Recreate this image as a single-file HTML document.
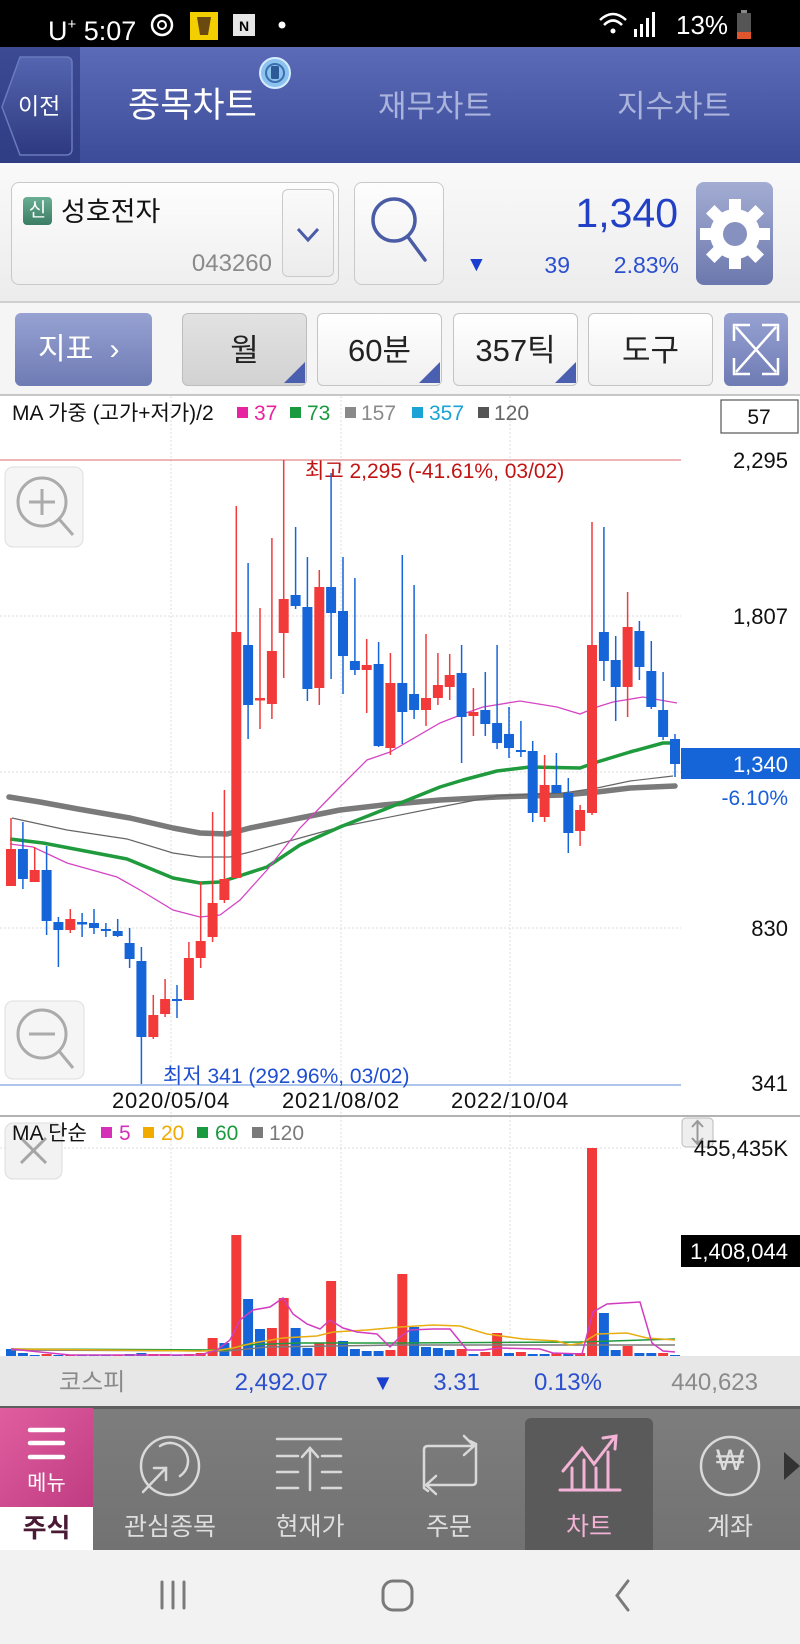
<!DOCTYPE html>
<html><head><meta charset="utf-8">
<style>
*{margin:0;padding:0;box-sizing:border-box}
body{width:800px;height:1644px;position:relative;overflow:hidden;background:#fff;font-family:"Liberation Sans","Noto Sans CJK KR",sans-serif}
.a{position:absolute;white-space:nowrap}
.btn{position:absolute;border:1px solid #c4c4c4;border-radius:6px;background:linear-gradient(#ffffff,#f0f0f0);color:#222;font-size:31px;text-align:center}
</style></head><body>

<!-- status bar -->
<div class="a" style="left:0;top:0;width:800px;height:47px;background:#000"></div>
<div class="a" style="left:48px;top:8px;height:34px;line-height:34px;color:#fff;font-size:27px">U<sup style="font-size:15px;vertical-align:11px">+</sup> 5:07</div>
<div class="a" style="left:676px;top:8px;height:34px;line-height:34px;color:#fff;font-size:26px">13%</div>
<svg class="a" style="left:0;top:0" width="800" height="47">
 <circle cx="162" cy="25" r="10" fill="none" stroke="#fff" stroke-width="2.5"/>
 <circle cx="162" cy="25" r="4" fill="none" stroke="#fff" stroke-width="2"/>
 <rect x="190" y="12" width="28" height="28" fill="#f3cf00"/>
 <path d="M197 17 L211 17 L208 35 L200 35 Z" fill="#6a4a10"/>
 <rect x="233" y="14" width="22" height="22" fill="#e6e6e6"/>
 <text x="244" y="31" font-size="14" font-weight="bold" text-anchor="middle" fill="#000" font-family="Liberation Sans">N</text>
 <circle cx="282" cy="25" r="3.5" fill="#fff"/>
 <path d="M600 20 Q613 8 626 20" fill="none" stroke="#fff" stroke-width="2.5"/>
 <path d="M604 25 Q613 16 622 25" fill="none" stroke="#fff" stroke-width="2.5"/>
 <circle cx="613" cy="31" r="2.5" fill="#fff"/>
 <rect x="634" y="29" width="3" height="8" fill="#fff"/>
 <rect x="640" y="24" width="3" height="13" fill="#fff"/>
 <rect x="646" y="18" width="3" height="19" fill="#fff"/>
 <rect x="652" y="12" width="3" height="25" fill="#fff"/>
 <rect x="741" y="10" width="6" height="3" fill="#888"/>
 <rect x="737" y="13" width="14" height="26" fill="#555"/>
 <rect x="737" y="32" width="14" height="7" fill="#e0552e"/>
</svg>

<!-- header -->
<div class="a" style="left:0;top:47px;width:800px;height:116px;background:linear-gradient(#5b6bb7,#3c4c98)"></div>
<div class="a" style="left:0;top:47px;width:80px;height:116px;background:linear-gradient(#3b4a93,#2f3d85)"></div>
<svg class="a" style="left:0;top:47px" width="80" height="116">
 <defs><linearGradient id="bk" x1="0" y1="0" x2="0" y2="1"><stop offset="0" stop-color="#5565b0"/><stop offset="1" stop-color="#2d3a80"/></linearGradient></defs>
 <path d="M66 10 L20 10 L2 60 L20 108 L66 108 Q72 108 72 102 L72 16 Q72 10 66 10 Z" fill="url(#bk)" stroke="#6b7abd" stroke-width="1.5"/>
</svg>
<div class="a" style="left:18px;top:90px;height:32px;line-height:32px;color:#fff;font-size:23px">이전</div>
<div class="a" style="left:128px;top:85px;height:42px;line-height:42px;color:#fff;font-size:35px">종목차트</div>
<svg class="a" style="left:258px;top:56px" width="36" height="36">
 <circle cx="17" cy="17" r="15" fill="#8cc2ee" stroke="#d6ecff" stroke-width="2"/>
 <circle cx="17" cy="17" r="9" fill="none" stroke="#3b6fae" stroke-width="2"/>
 <rect x="13" y="10" width="8" height="13" rx="1.5" fill="#2d5a96"/>
</svg>
<div class="a" style="left:378px;top:87px;height:40px;line-height:40px;color:#a9b3dc;font-size:31px">재무차트</div>
<div class="a" style="left:617px;top:87px;height:40px;line-height:40px;color:#a9b3dc;font-size:31px">지수차트</div>

<!-- stock info row -->
<div class="a" style="left:0;top:163px;width:800px;height:139px;background:linear-gradient(#f9f9f9,#ececec)"></div>
<div class="a" style="left:11px;top:182px;width:328px;height:103px;border:1px solid #c9c9c9;border-radius:8px;background:linear-gradient(#fdfdfd,#efefef)"></div>
<div class="a" style="left:23px;top:197px;width:29px;height:28px;border-radius:4px;background:linear-gradient(#6aae93,#3b7c64);color:#fff;font-size:19px;line-height:28px;text-align:center">신</div>
<div class="a" style="left:61px;top:194px;height:36px;line-height:36px;color:#111;font-size:27px">성호전자</div>
<div class="a" style="left:185px;top:249px;height:30px;line-height:30px;color:#8a8a8a;font-size:24px;width:87px;text-align:right">043260</div>
<div class="a" style="left:282px;top:189px;width:52px;height:88px;border:1px solid #cacaca;border-radius:6px;background:linear-gradient(#fafafa,#ececec)"></div>
<svg class="a" style="left:282px;top:189px" width="52" height="88"><polyline points="16,40 26,51 36,40" fill="none" stroke="#4a5ba8" stroke-width="3"/></svg>
<div class="a" style="left:354px;top:182px;width:90px;height:103px;border:1px solid #c9c9c9;border-radius:8px;background:linear-gradient(#fdfdfd,#efefef)"></div>
<svg class="a" style="left:354px;top:182px" width="90" height="103">
 <circle cx="40" cy="38" r="21" fill="none" stroke="#4b5ca6" stroke-width="3.5"/>
 <line x1="54" y1="55" x2="71" y2="78" stroke="#4b5ca6" stroke-width="3.5" stroke-linecap="round"/>
</svg>
<div class="a" style="left:540px;top:189px;width:138px;height:48px;line-height:48px;color:#2140c6;font-size:41px;text-align:right">1,340</div>
<div class="a" style="left:466px;top:250px;height:30px;line-height:30px;color:#1a3fd0;font-size:21px">▼</div>
<div class="a" style="left:520px;top:250px;width:50px;height:30px;line-height:30px;color:#2a4fcf;font-size:23px;text-align:right">39</div>
<div class="a" style="left:590px;top:250px;width:89px;height:30px;line-height:30px;color:#2a4fcf;font-size:23px;text-align:right">2.83%</div>
<div class="a" style="left:696px;top:182px;width:77px;height:103px;border-radius:8px;background:linear-gradient(#a3adD3,#6c78ad)"></div>
<svg class="a" style="left:696px;top:182px" width="77" height="103">
 <g transform="translate(39,52)" fill="#fff">
  <circle r="25"/>
  <rect x="-6" y="-35" width="12" height="14"/>
  <rect x="-6" y="21" width="12" height="14"/>
  <rect x="-35" y="-6" width="14" height="12"/>
  <rect x="21" y="-6" width="14" height="12"/>
  <rect x="-6" y="-35" width="12" height="14" transform="rotate(45)"/>
  <rect x="-6" y="-35" width="12" height="14" transform="rotate(135)"/>
  <rect x="-6" y="-35" width="12" height="14" transform="rotate(225)"/>
  <rect x="-6" y="-35" width="12" height="14" transform="rotate(315)"/>
  <circle r="12" fill="#8791c0"/>
 </g>
</svg>

<!-- toolbar -->
<div class="a" style="left:0;top:301px;width:800px;height:2px;background:#cfcfcf"></div>
<div class="a" style="left:0;top:303px;width:800px;height:92px;background:#f5f5f5"></div>
<div class="a" style="left:15px;top:313px;width:137px;height:73px;border-radius:6px;background:linear-gradient(#97a2d2,#6e7bb4);color:#fff;font-size:30px;line-height:73px;padding-left:23px">지표 <span style="font-size:30px;margin-left:8px">›</span></div>
<div class="btn" style="left:182px;top:313px;width:125px;height:73px;line-height:73px;background:linear-gradient(#e2e2e2,#d2d2d2);border-color:#bdbdbd">월</div>
<div class="btn" style="left:317px;top:313px;width:125px;height:73px;line-height:73px">60분</div>
<div class="btn" style="left:453px;top:313px;width:125px;height:73px;line-height:73px">357틱</div>
<div class="btn" style="left:588px;top:313px;width:125px;height:73px;line-height:73px">도구</div>
<svg class="a" style="left:0;top:300px" width="800" height="95">
 <polygon points="305,62 305,83 284,83" fill="#4a5fb0"/>
 <polygon points="440,62 440,83 419,83" fill="#4a5fb0"/>
 <polygon points="576,62 576,83 555,83" fill="#4a5fb0"/>
</svg>
<div class="a" style="left:724px;top:313px;width:64px;height:73px;border-radius:6px;background:linear-gradient(#97a2d2,#6e7bb4)"></div>
<svg class="a" style="left:724px;top:313px" width="64" height="73" fill="none" stroke="#fff" stroke-width="2.5">
 <line x1="12" y1="14" x2="52" y2="59"/><line x1="52" y1="14" x2="12" y2="59"/>
 <polyline points="10,28 10,12 26,12"/><polyline points="38,12 54,12 54,28"/>
 <polyline points="10,45 10,61 26,61"/><polyline points="38,61 54,61 54,45"/>
</svg>

<!-- chart -->
<svg class="a" style="left:0;top:0" width="800" height="1644" font-family="Liberation Sans, Noto Sans CJK KR, sans-serif">
 <line x1="0" y1="395" x2="800" y2="395" stroke="#b5b5b5" stroke-width="1.5"/>
 <!-- grids -->
 <g stroke="#dcdcdc" stroke-width="1" stroke-dasharray="2,2">
  <line x1="171" y1="396" x2="171" y2="1356"/>
  <line x1="341" y1="396" x2="341" y2="1356"/>
  <line x1="510" y1="396" x2="510" y2="1356"/>
  <line x1="0" y1="616" x2="681" y2="616"/>
  <line x1="0" y1="772" x2="681" y2="772"/>
  <line x1="0" y1="928" x2="681" y2="928"/>
  <line x1="0" y1="1148" x2="681" y2="1148"/>
 </g>
 <line x1="0" y1="460" x2="681" y2="460" stroke="#e28a8a" stroke-width="1.2"/>
 <line x1="0" y1="1085" x2="681" y2="1085" stroke="#7ea3e2" stroke-width="1.2"/>

 <!-- legend -->
 <text x="12" y="420" font-size="21" fill="#111">MA 가중 (고가+저가)/2</text>
 <rect x="237" y="407" width="11" height="11" fill="#e8239f"/><text x="254" y="420" font-size="21" fill="#e8239f">37</text>
 <rect x="290" y="407" width="11" height="11" fill="#1a9a3e"/><text x="307" y="420" font-size="21" fill="#1a9a3e">73</text>
 <rect x="345" y="407" width="11" height="11" fill="#8a8a8a"/><text x="361" y="420" font-size="21" fill="#8a8a8a">157</text>
 <rect x="412" y="407" width="11" height="11" fill="#1aa3d4"/><text x="429" y="420" font-size="21" fill="#1aa3d4">357</text>
 <rect x="478" y="407" width="11" height="11" fill="#555"/><text x="494" y="420" font-size="21" fill="#666">120</text>
 <rect x="721" y="400" width="77" height="33" fill="#fff" stroke="#555" stroke-width="1.2"/>
 <text x="759" y="424" font-size="21" fill="#111" text-anchor="middle">57</text>

 <!-- axis labels -->
 <g font-size="22" fill="#111" text-anchor="end">
  <text x="788" y="468">2,295</text>
  <text x="788" y="624">1,807</text>
  <text x="788" y="936">830</text>
  <text x="788" y="1091">341</text>
 </g>
 <text x="305" y="478" font-size="21" fill="#c21313">최고 2,295 (-41.61%, 03/02)</text>
 <text x="163" y="1083" font-size="21" fill="#1d4fd0">최저 341 (292.96%, 03/02)</text>
 <g font-size="22" fill="#111" text-anchor="middle" letter-spacing="0.8">
  <text x="171" y="1108">2020/05/04</text>
  <text x="341" y="1108">2021/08/02</text>
  <text x="510" y="1108">2022/10/04</text>
 </g>

 <!-- zoom buttons -->
 <rect x="5" y="467" width="78" height="80" rx="8" fill="#f5f5f5" stroke="#dedede"/>
 <circle cx="42" cy="502" r="24" fill="none" stroke="#ababab" stroke-width="3"/>
 <line x1="29" y1="502" x2="55" y2="502" stroke="#ababab" stroke-width="3"/>
 <line x1="42" y1="489" x2="42" y2="515" stroke="#ababab" stroke-width="3"/>
 <line x1="59" y1="519" x2="73" y2="535" stroke="#ababab" stroke-width="3"/>
 <rect x="5" y="1001" width="79" height="78" rx="8" fill="#f5f5f5" stroke="#dedede"/>
 <circle cx="42" cy="1034" r="24" fill="none" stroke="#ababab" stroke-width="3"/>
 <line x1="29" y1="1034" x2="55" y2="1034" stroke="#ababab" stroke-width="3"/>
 <line x1="59" y1="1051" x2="73" y2="1068" stroke="#ababab" stroke-width="3"/>

 <!-- MA lines -->
 <polyline fill="none" stroke="#7a7a7a" stroke-width="5.5" stroke-linecap="round" stroke-linejoin="round" points="9,797 40,802 78,809 130,818 173,828 200,833 227,834 250,828 300,818 340,810 383,805 440,800 497,797 563,795 597,792 630,788 675,786"/>
 <polyline fill="none" stroke="#666" stroke-width="1.2" points="12,818 67,830 127,839 173,853 200,857 230,857 250,852 300,838 340,827 440,807 497,796 563,793 597,788 630,781 673,776"/>
 <polyline fill="none" stroke="#1f9a3c" stroke-width="3.5" stroke-linejoin="round" points="10,839 43,843 127,859 173,878 200,883 220,882 233,878 267,867 300,845 340,827 383,810 440,787 463,780 497,771 530,767 580,768 597,762 630,752 663,743 675,743"/>
 <polyline fill="none" stroke="#d545c4" stroke-width="1.3" points="10,844 33,847 67,863 117,877 140,890 173,910 200,917 220,915 240,900 267,870 300,828 340,787 367,760 390,752 440,723 463,714 483,707 520,701 557,707 580,714 597,707 613,702 643,697 677,703"/>

 <!-- red candles -->
 <g stroke="#f23a3a" stroke-width="1.5">
  <line x1="11" y1="818" x2="11" y2="886"/><line x1="34.7" y1="847" x2="34.7" y2="882"/>
  <line x1="70.3" y1="909" x2="70.3" y2="933"/><line x1="153.3" y1="995" x2="153.3" y2="1039"/>
  <line x1="165.1" y1="979" x2="165.1" y2="1017"/><line x1="188.9" y1="942" x2="188.9" y2="1000"/>
  <line x1="200.7" y1="882" x2="200.7" y2="968"/><line x1="212.6" y1="812" x2="212.6" y2="942"/>
  <line x1="224.4" y1="790" x2="224.4" y2="903"/><line x1="236.3" y1="506" x2="236.3" y2="878"/>
  <line x1="260" y1="608" x2="260" y2="729"/><line x1="271.9" y1="538" x2="271.9" y2="719"/>
  <line x1="283.7" y1="460" x2="283.7" y2="678"/><line x1="319.3" y1="570" x2="319.3" y2="705"/>
  <line x1="366.7" y1="639" x2="366.7" y2="713"/><line x1="390.4" y1="653" x2="390.4" y2="755"/>
  <line x1="426" y1="634" x2="426" y2="726"/><line x1="437.9" y1="653" x2="437.9" y2="705"/>
  <line x1="449.7" y1="654" x2="449.7" y2="700"/><line x1="473.4" y1="688" x2="473.4" y2="736"/>
  <line x1="544.6" y1="755" x2="544.6" y2="822"/><line x1="580.1" y1="805" x2="580.1" y2="846"/>
  <line x1="592" y1="522" x2="592" y2="815"/><line x1="627.6" y1="592" x2="627.6" y2="717"/>
 </g>
 <g fill="#f23a3a">
  <rect x="6" y="849" width="10" height="37"/><rect x="29.7" y="870" width="10" height="12"/>
  <rect x="65.3" y="919" width="10" height="11"/><rect x="148.3" y="1015" width="10" height="22"/>
  <rect x="160.1" y="999" width="10" height="15"/><rect x="183.9" y="958" width="10" height="42"/>
  <rect x="195.7" y="941" width="10" height="17"/><rect x="207.6" y="903" width="10" height="34"/>
  <rect x="219.4" y="879" width="10" height="21"/><rect x="231.3" y="632" width="10" height="246"/>
  <rect x="255" y="698" width="10" height="2.5"/><rect x="266.9" y="651" width="10" height="53"/>
  <rect x="278.7" y="599" width="10" height="34"/><rect x="314.3" y="587" width="10" height="101"/>
  <rect x="361.7" y="665" width="10" height="5"/><rect x="385.4" y="683" width="10" height="65"/>
  <rect x="421" y="698" width="10" height="12"/><rect x="432.9" y="685" width="10" height="13"/>
  <rect x="444.7" y="675" width="10" height="12"/><rect x="468.4" y="712" width="10" height="4"/>
  <rect x="539.6" y="785" width="10" height="32"/><rect x="575.1" y="810" width="10" height="21"/>
  <rect x="587" y="645" width="10" height="168"/><rect x="622.6" y="627" width="10" height="60"/>
 </g>
 <!-- blue candles -->
 <g stroke="#1565d8" stroke-width="1.5">
  <line x1="22.9" y1="822" x2="22.9" y2="889"/><line x1="46.6" y1="846" x2="46.6" y2="935"/>
  <line x1="58.4" y1="917" x2="58.4" y2="967"/><line x1="82.1" y1="913" x2="82.1" y2="937"/>
  <line x1="94" y1="909" x2="94" y2="934"/><line x1="105.9" y1="923" x2="105.9" y2="937"/>
  <line x1="117.7" y1="919" x2="117.7" y2="937"/><line x1="129.6" y1="928" x2="129.6" y2="968"/>
  <line x1="141.4" y1="947" x2="141.4" y2="1084"/><line x1="177" y1="985" x2="177" y2="1018"/>
  <line x1="248.1" y1="563" x2="248.1" y2="739"/><line x1="295.6" y1="527" x2="295.6" y2="609"/>
  <line x1="307.4" y1="557" x2="307.4" y2="701"/><line x1="331.1" y1="473" x2="331.1" y2="679"/>
  <line x1="343" y1="557" x2="343" y2="694"/><line x1="354.9" y1="578" x2="354.9" y2="675"/>
  <line x1="378.6" y1="642" x2="378.6" y2="747"/><line x1="402.3" y1="555" x2="402.3" y2="744"/>
  <line x1="414.1" y1="585" x2="414.1" y2="719"/><line x1="461.6" y1="645" x2="461.6" y2="763"/>
  <line x1="485.3" y1="672" x2="485.3" y2="736"/><line x1="497.1" y1="645" x2="497.1" y2="749"/>
  <line x1="509" y1="707" x2="509" y2="758"/><line x1="520.9" y1="721" x2="520.9" y2="757"/>
  <line x1="532.7" y1="741" x2="532.7" y2="822"/><line x1="556.4" y1="753" x2="556.4" y2="793"/>
  <line x1="568.3" y1="778" x2="568.3" y2="853"/><line x1="603.9" y1="527" x2="603.9" y2="681"/>
  <line x1="615.7" y1="636" x2="615.7" y2="721"/><line x1="639.4" y1="621" x2="639.4" y2="680"/>
  <line x1="651.3" y1="641" x2="651.3" y2="709"/><line x1="663.1" y1="672" x2="663.1" y2="740"/>
  <line x1="675" y1="734" x2="675" y2="777"/>
 </g>
 <g fill="#1565d8">
  <rect x="17.9" y="849" width="10" height="30"/><rect x="41.6" y="870" width="10" height="51"/>
  <rect x="53.4" y="922" width="10" height="8"/><rect x="77.1" y="922" width="10" height="2.5"/>
  <rect x="89" y="923" width="10" height="5"/><rect x="100.9" y="929" width="10" height="2"/>
  <rect x="112.7" y="931" width="10" height="5"/><rect x="124.6" y="943" width="10" height="16"/>
  <rect x="136.4" y="961" width="10" height="76"/><rect x="172" y="999" width="10" height="2"/>
  <rect x="243.1" y="645" width="10" height="60"/><rect x="290.6" y="595" width="10" height="11"/>
  <rect x="302.4" y="607" width="10" height="82"/><rect x="326.1" y="587" width="10" height="26"/>
  <rect x="338" y="611" width="10" height="45"/><rect x="349.9" y="661" width="10" height="9"/>
  <rect x="373.6" y="664" width="10" height="82"/><rect x="397.3" y="683" width="10" height="29"/>
  <rect x="409.1" y="694" width="10" height="16"/><rect x="456.6" y="673" width="10" height="44"/>
  <rect x="480.3" y="710" width="10" height="14"/><rect x="492.1" y="723" width="10" height="20"/>
  <rect x="504" y="734" width="10" height="14"/><rect x="515.9" y="750" width="10" height="2"/>
  <rect x="527.7" y="751" width="10" height="62"/><rect x="551.4" y="785" width="10" height="8"/>
  <rect x="563.3" y="793" width="10" height="40"/><rect x="598.9" y="632" width="10" height="29"/>
  <rect x="610.7" y="660" width="10" height="27"/><rect x="634.4" y="631" width="10" height="36"/>
  <rect x="646.3" y="671" width="10" height="36"/><rect x="658.1" y="710" width="10" height="27"/>
  <rect x="670" y="739" width="10" height="25"/>
 </g>

 <!-- current price -->
 <rect x="681" y="748" width="119" height="31" fill="#1565d8"/>
 <text x="788" y="772" font-size="22" fill="#fff" text-anchor="end">1,340</text>
 <text x="788" y="805" font-size="21" fill="#1a5fd8" text-anchor="end">-6.10%</text>

 <!-- volume pane -->
 <line x1="0" y1="1116" x2="800" y2="1116" stroke="#9a9a9a" stroke-width="1.5"/>
 <rect x="5" y="1123" width="57" height="56" rx="8" fill="#f2f2f2" stroke="#dcdcdc"/>
 <line x1="21" y1="1138" x2="46" y2="1163" stroke="#a5a5a5" stroke-width="3"/>
 <line x1="46" y1="1138" x2="21" y2="1163" stroke="#a5a5a5" stroke-width="3"/>
 <text x="12" y="1140" font-size="21" fill="#111">MA 단순</text>
 <rect x="101" y="1127" width="11" height="11" fill="#d62fb8"/><text x="119" y="1140" font-size="21" fill="#d62fb8">5</text>
 <rect x="143" y="1127" width="11" height="11" fill="#f0aa00"/><text x="161" y="1140" font-size="21" fill="#f0aa00">20</text>
 <rect x="197" y="1127" width="11" height="11" fill="#1a9a3e"/><text x="215" y="1140" font-size="21" fill="#1a9a3e">60</text>
 <rect x="252" y="1127" width="11" height="11" fill="#7a7a7a"/><text x="269" y="1140" font-size="21" fill="#7a7a7a">120</text>
 <rect x="682" y="1118" width="31" height="29" rx="4" fill="#eeeeee" stroke="#bbb"/>
 <line x1="697.5" y1="1122" x2="697.5" y2="1143" stroke="#999" stroke-width="2"/>
 <polyline points="692,1127 697.5,1121 703,1127" fill="none" stroke="#999" stroke-width="2"/>
 <polyline points="692,1138 697.5,1144 703,1138" fill="none" stroke="#999" stroke-width="2"/>
 <text x="788" y="1156" font-size="22" fill="#111" text-anchor="end">455,435K</text>
 <rect x="681" y="1235" width="119" height="32" fill="#000"/>
 <text x="788" y="1259" font-size="22" fill="#fff" text-anchor="end">1,408,044</text>

 <g fill="#f23a3a">
  <rect x="41.6" y="1354" width="10" height="2"/><rect x="65.3" y="1355" width="10" height="1"/>
  <rect x="112.7" y="1355" width="10" height="1"/><rect x="148.3" y="1354" width="10" height="2"/>
  <rect x="160.1" y="1354" width="10" height="2"/><rect x="183.9" y="1354" width="10" height="2"/>
  <rect x="195.7" y="1353" width="10" height="3"/><rect x="207.6" y="1338" width="10" height="18"/>
  <rect x="231.3" y="1235" width="10" height="121"/><rect x="266.9" y="1328" width="10" height="28"/>
  <rect x="278.7" y="1298" width="10" height="58"/><rect x="314.3" y="1343" width="10" height="13"/>
  <rect x="326.1" y="1281" width="10" height="75"/><rect x="385.4" y="1350" width="10" height="6"/>
  <rect x="397.3" y="1274" width="10" height="82"/><rect x="456.6" y="1349" width="10" height="7"/>
  <rect x="480.3" y="1352" width="10" height="4"/><rect x="492.1" y="1333" width="10" height="23"/>
  <rect x="515.9" y="1352" width="10" height="4"/><rect x="551.4" y="1353" width="10" height="3"/>
  <rect x="575.1" y="1353" width="10" height="3"/><rect x="587" y="1148" width="10" height="208"/>
  <rect x="622.6" y="1346" width="10" height="10"/><rect x="658.1" y="1353" width="10" height="3"/>
 </g>
 <g fill="#1565d8">
  <rect x="6" y="1349" width="10" height="7"/><rect x="17.9" y="1353" width="10" height="3"/>
  <rect x="29.7" y="1355" width="10" height="1"/><rect x="53.4" y="1355" width="10" height="1"/>
  <rect x="77.1" y="1355" width="10" height="1"/><rect x="89" y="1355" width="10" height="1"/>
  <rect x="100.9" y="1355" width="10" height="1"/><rect x="124.6" y="1354" width="10" height="2"/>
  <rect x="136.4" y="1353" width="10" height="3"/><rect x="172" y="1355" width="10" height="1"/>
  <rect x="219.4" y="1343" width="10" height="13"/><rect x="243.1" y="1299" width="10" height="57"/>
  <rect x="255" y="1329" width="10" height="27"/><rect x="290.6" y="1328" width="10" height="28"/>
  <rect x="302.4" y="1348" width="10" height="8"/><rect x="338" y="1341" width="10" height="15"/>
  <rect x="349.9" y="1349" width="10" height="7"/><rect x="361.7" y="1351" width="10" height="5"/>
  <rect x="373.6" y="1351" width="10" height="5"/><rect x="409.1" y="1327" width="10" height="29"/>
  <rect x="421" y="1347" width="10" height="9"/><rect x="432.9" y="1348" width="10" height="8"/>
  <rect x="444.7" y="1350" width="10" height="6"/><rect x="468.4" y="1354" width="10" height="2"/>
  <rect x="504" y="1353" width="10" height="3"/><rect x="527.7" y="1354" width="10" height="2"/>
  <rect x="539.6" y="1354" width="10" height="2"/><rect x="563.3" y="1353" width="10" height="3"/>
  <rect x="598.9" y="1313" width="10" height="43"/><rect x="610.7" y="1350" width="10" height="6"/>
  <rect x="634.4" y="1353" width="10" height="3"/><rect x="646.3" y="1353" width="10" height="3"/>
  <rect x="670" y="1355" width="10" height="1"/>
 </g>
 <polyline fill="none" stroke="#7a7a7a" stroke-width="1.5" points="11,1350 227,1351 267,1347 400,1345 675,1345"/>
 <polyline fill="none" stroke="#1f9a3c" stroke-width="1.5" points="11,1349 227,1350 243,1345 300,1343 400,1343 580,1342 675,1339"/>
 <polyline fill="none" stroke="#e8ad10" stroke-width="1.5" points="11,1349 200,1351 220,1350 233,1348 253,1343 283,1338 317,1336 333,1332 367,1330 400,1327 433,1325 460,1326 487,1334 523,1339 557,1341 570,1345 582,1343 597,1334 627,1333 647,1338 675,1340"/>
 <polyline fill="none" stroke="#d23cc0" stroke-width="1.5" points="11,1349 40,1352 70,1355 200,1355 217,1350 230,1340 240,1320 253,1310 270,1307 283,1298 293,1314 307,1324 320,1329 330,1320 343,1328 357,1332 377,1334 390,1347 400,1337 410,1330 433,1329 450,1329 467,1350 483,1350 500,1348 540,1349 553,1353 582,1354 593,1312 607,1304 623,1303 640,1302 652,1343 663,1351 675,1352"/>
</svg>

<!-- kospi bar -->
<div class="a" style="left:0;top:1356px;width:800px;height:52px;background:#e7e7e7"></div>
<div class="a" style="left:59px;top:1367px;height:32px;line-height:32px;font-size:24px;color:#8a8a8a">코스피</div>
<div class="a" style="left:220px;top:1367px;width:108px;height:32px;line-height:32px;font-size:24px;color:#2a4fcf;text-align:right">2,492.07</div>
<div class="a" style="left:372px;top:1367px;height:32px;line-height:32px;font-size:22px;color:#1a3fd0">▼</div>
<div class="a" style="left:420px;top:1367px;width:60px;height:32px;line-height:32px;font-size:24px;color:#2a4fcf;text-align:right">3.31</div>
<div class="a" style="left:520px;top:1367px;width:82px;height:32px;line-height:32px;font-size:24px;color:#2a4fcf;text-align:right">0.13%</div>
<div class="a" style="left:650px;top:1367px;width:108px;height:32px;line-height:32px;font-size:24px;color:#8a8a8a;text-align:right">440,623</div>

<!-- bottom nav -->
<div class="a" style="left:0;top:1408px;width:800px;height:142px;background:linear-gradient(#7d7d7d,#727272)"></div>
<div class="a" style="left:0;top:1406px;width:800px;height:3px;background:#5e5e5e"></div>
<div class="a" style="left:0;top:1408px;width:93px;height:99px;background:linear-gradient(135deg,#e05ea0,#c03c82)"></div>
<div class="a" style="left:0;top:1507px;width:93px;height:43px;background:#fff;color:#4a1a35;font-size:26px;line-height:43px;text-align:center;font-weight:bold">주식</div>
<div class="a" style="left:525px;top:1418px;width:128px;height:132px;background:#5a5a5a;border-radius:6px 6px 0 0"></div>
<svg class="a" style="left:0;top:1408px" width="800" height="142" fill="none" stroke-linecap="round">
 <g stroke="#fff" stroke-width="4.5"><line x1="30" y1="22" x2="63" y2="22"/><line x1="30" y1="35" x2="63" y2="35"/><line x1="30" y1="49" x2="63" y2="49"/></g>
 <g stroke="#d9d9d9" stroke-width="2.5">
  <circle cx="170" cy="58" r="29"/>
  <path d="M160 38 A16 16 0 1 1 180 68"/>
  <line x1="143" y1="84" x2="166" y2="60"/><polyline points="154,60 166,60 166,72"/>
  <line x1="277" y1="31" x2="341" y2="31"/>
  <line x1="277" y1="48" x2="298" y2="48"/><line x1="322" y1="48" x2="341" y2="48"/>
  <line x1="277" y1="64" x2="298" y2="64"/><line x1="322" y1="64" x2="341" y2="64"/>
  <line x1="277" y1="80" x2="298" y2="80"/><line x1="322" y1="80" x2="341" y2="80"/>
  <line x1="310" y1="82" x2="310" y2="40"/><polyline points="302,49 310,40 318,49"/>
  <path d="M428 83 L424 80 L424 42 Q424 38 428 38 L472 38"/><polyline points="464,28 474,38 464,47"/>
  <path d="M470 33 L476 36 L476 73 Q476 77 472 77 L428 77"/><polyline points="436,68 426,77 436,86"/>
  <circle cx="730" cy="58" r="29"/>
 </g>
 <g stroke="#f3b3d6" stroke-width="3">
  <line x1="560" y1="82" x2="620" y2="82"/>
  <line x1="572" y1="82" x2="572" y2="60"/><line x1="584" y1="82" x2="584" y2="52"/>
  <line x1="596" y1="82" x2="596" y2="60"/><line x1="608" y1="82" x2="608" y2="44"/>
  <polyline points="563,63 582,40 594,56 614,30"/><polyline points="603,30 616,28 615,41"/>
 </g>
 <polygon points="784,44 800,58 784,72" fill="#333"/>
</svg>
<div class="a" style="left:701px;top:1444px;width:58px;height:34px;line-height:34px;text-align:center;font-size:30px;color:#ddd">₩</div>
<div class="a" style="left:0;top:1469px;width:93px;height:30px;line-height:30px;text-align:center;font-size:21px;color:#fff">메뉴</div>
<div class="a" style="left:110px;top:1510px;width:120px;height:34px;line-height:34px;text-align:center;font-size:25px;color:#dedede">관심종목</div>
<div class="a" style="left:250px;top:1510px;width:120px;height:34px;line-height:34px;text-align:center;font-size:25px;color:#dedede">현재가</div>
<div class="a" style="left:389px;top:1510px;width:120px;height:34px;line-height:34px;text-align:center;font-size:25px;color:#dedede">주문</div>
<div class="a" style="left:529px;top:1510px;width:120px;height:34px;line-height:34px;text-align:center;font-size:25px;color:#f3b3d6">차트</div>
<div class="a" style="left:670px;top:1510px;width:120px;height:34px;line-height:34px;text-align:center;font-size:25px;color:#dedede">계좌</div>

<!-- android nav -->
<div class="a" style="left:0;top:1550px;width:800px;height:94px;background:#f2f2f2"></div>
<svg class="a" style="left:0;top:1550px" width="800" height="94" fill="none" stroke="#7a7a7a" stroke-width="3" stroke-linecap="round">
 <line x1="162" y1="32" x2="162" y2="58"/><line x1="173" y1="32" x2="173" y2="58"/><line x1="184" y1="32" x2="184" y2="58"/>
 <rect x="383" y="31" width="29" height="29" rx="10"/>
 <polyline points="628,31 617,45.5 628,60"/>
</svg>
</body></html>
